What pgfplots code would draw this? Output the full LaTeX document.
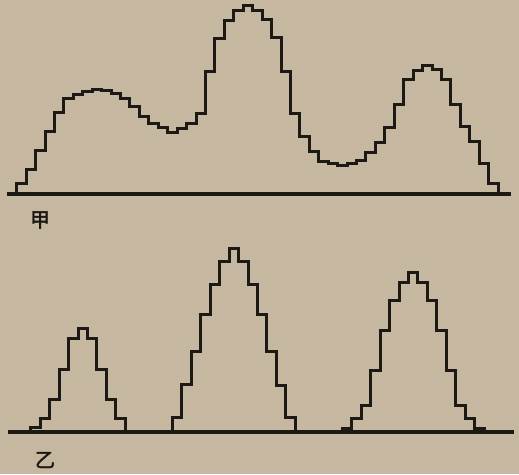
\documentclass[border=0pt]{standalone}
\usepackage{fontspec}
\usepackage{pgfplots}
\pgfplotsset{compat=1.18}
\newfontfamily\cjk[FakeBold=2]{Noto Sans CJK SC}
\definecolor{paper}{RGB}{198,184,160}
\definecolor{ink}{RGB}{28,24,20}
\pgfplotsset{
  stepaxis/.style={
    scale only axis,
    axis x line=bottom, axis y line=none,
    x axis line style={-, line width=3.2pt, color=ink},
    xtick=\empty, ytick=\empty,
    ymin=0, ymax=190, height=190pt,
    clip=false,
  },
  stepline/.style={const plot, no marks, line width=3pt, color=ink, line join=miter},
}
\begin{document}
\begin{tikzpicture}[x=1pt,y=1pt]
\fill[paper] (0,0) rectangle (519,474);
% top chart (jia)
\begin{axis}[stepaxis, xmin=-0.98, xmax=52.36, width=503.5pt,
  at={(16.7pt,280pt)}, anchor=origin]
\addplot[stepline] coordinates {
(0,0) (0,10) (1,24) (2,43) (3,62) (4,81) (5,95) (6,99) (7,102) (8,104) (9,103)
(10,100) (11,95) (12,87) (13,77) (14,70) (15,66) (16,61) (17,65) (18,70) (19,80)
(20,122) (21,155) (22,173) (23,183) (24,188) (25,183) (26,174) (27,156) (28,122) (29,80)
(30,57) (31,42) (32,32) (33,30) (34,28) (35,30) (36,33) (37,41) (38,51) (39,66)
(40,89) (41,114) (42,123) (43,128) (44,124) (45,114) (46,89) (47,67) (48,52) (49,30)
(50,10) (51,0)
};
\end{axis}
% bottom chart (yi)
\begin{axis}[stepaxis, xmin=-0.92, xmax=52.67, width=506pt,
  at={(16.7pt,42pt)}, anchor=origin]
\addplot[stepline] coordinates {
(1.5,0) (1.5,5) (2.5,14) (3.5,33) (4.5,62) (5.5,93) (6.5,103) (7.5,93) (8.5,62) (9.5,33) (10.5,14) (11.5,0)
};
\addplot[stepline] coordinates {
(16.5,0) (16.5,15) (17.5,48) (18.5,80) (19.5,117) (20.5,147) (21.5,170) (22.5,183)
(23.5,170) (24.5,147) (25.5,117) (26.5,80) (27.5,47) (28.5,15) (29.5,0)
};
\addplot[stepline] coordinates {
(34.5,0) (34.5,4) (35.5,14) (36.5,27) (37.5,61) (38.5,101) (39.5,131) (40.5,149) (41.5,159)
(42.5,149) (43.5,131) (44.5,101) (45.5,61) (46.5,27) (47.5,14) (48.5,4) (49.5,0)
};
\end{axis}
\node[color=ink, font=\cjk\fontsize{20}{20}\selectfont] at (40,254) {甲};
\node[color=ink, font=\cjk\fontsize{20}{20}\selectfont] at (45,14) {乙};
\end{tikzpicture}
\end{document}
